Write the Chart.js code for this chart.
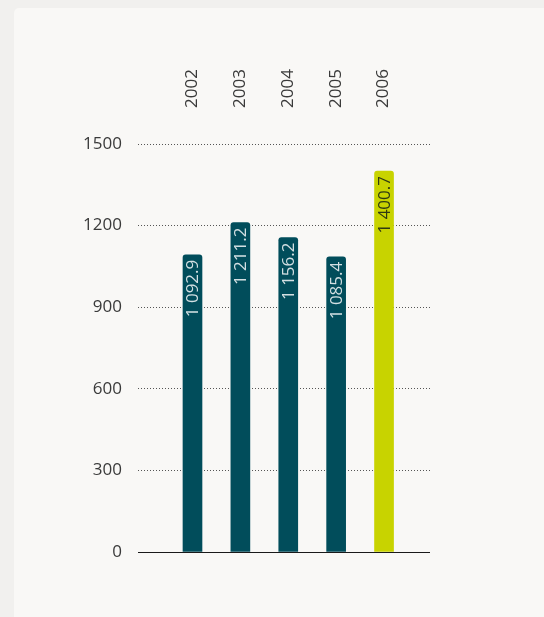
<!DOCTYPE html>
<html>
<head>
<meta charset="utf-8">
<script src="https://cdn.jsdelivr.net/npm/chart.js@4/dist/chart.umd.min.js"></script>
<style>
  html, body { margin: 0; padding: 0; background: #f1f0ee; }
  body { width: 544px; height: 617px; position: relative; overflow: hidden; }
  #card { position: absolute; left: 14px; top: 8px; width: 540px; height: 620px; background: #f9f8f6; border-radius: 5px; }
  #wrap { position: absolute; left: 0; top: 0; width: 544px; height: 617px; }
</style>
</head>
<body>
<div id="card"></div>
<div id="wrap"><canvas id="c" width="544" height="617"></canvas></div>
<script>
const years = [2002, 2003, 2004, 2005, 2006];
const values = [1092.9, 1211.2, 1156.2, 1085.4, 1400.7];
const valueLabels = ['1 092.9', '1 211.2', '1 156.2', '1 085.4', '1 400.7'];
const yTicks = [0, 300, 600, 900, 1200, 1500];

const TEAL = '#014d5b';
const LIME = '#c8d300';
const barColors = years.map((y, i) => i === years.length - 1 ? LIME : TEAL);
const labelColors = years.map((y, i) => i === years.length - 1 ? '#2f3a12' : '#d3dfe2');

const FONT = "'Open Sans', 'Noto Sans', sans-serif";

const valueLabelPlugin = {
  id: 'valueLabels',
  afterDatasetsDraw(chart) {
    const ctx = chart.ctx;
    const meta = chart.getDatasetMeta(0);
    const yScale = chart.scales.y;
    const y0 = Math.round(yScale.getPixelForValue(0)) + 0.5;
    ctx.save();
    ctx.strokeStyle = '#1a1a1a';
    ctx.lineWidth = 1;
    ctx.beginPath();
    ctx.moveTo(chart.chartArea.left, y0);
    ctx.lineTo(chart.chartArea.right, y0);
    ctx.stroke();
    ctx.font = '17px ' + FONT;
    ctx.textAlign = 'right';
    ctx.textBaseline = 'middle';
    meta.data.forEach((bar, i) => {
      ctx.save();
      ctx.translate(bar.x + 1, bar.y + 5);
      ctx.rotate(-Math.PI / 2);
      ctx.fillStyle = labelColors[i];
      ctx.fillText(valueLabels[i], 0, 0);
      ctx.restore();
    });
    ctx.restore();
  }
};

new Chart(document.getElementById('c'), {
  type: 'bar',
  data: {
    datasets: [{
      data: years.map((yr, i) => ({ x: yr, y: values[i] })),
      backgroundColor: barColors,
      barThickness: 19,
      borderRadius: { topLeft: 3, topRight: 3, bottomLeft: 0, bottomRight: 0 },
      borderSkipped: false
    }]
  },
  options: {
    responsive: false,
    animation: false,
    devicePixelRatio: 1,
    layout: { padding: { left: 0, right: 114, top: 0, bottom: 65 } },
    plugins: { legend: { display: false }, tooltip: { enabled: false } },
    scales: {
      x: {
        type: 'linear',
        position: 'top',
        offset: false,
        min: 2000.862,
        max: 2006.96,
        afterBuildTicks: (scale) => { scale.ticks = years.map(v => ({ value: v })); },
        afterFit: (scale) => { scale.height = 144; },
        grid: { display: false, drawTicks: false, offset: false },
        border: { display: false },
        ticks: {
          autoSkip: false,
          minRotation: 90,
          maxRotation: 90,
          padding: 36,
          labelOffset: 20,
          color: '#3a3a3a',
          font: { family: FONT, size: 17 },
          callback: (v) => String(v)
        }
      },
      y: {
        min: 0,
        max: 1500,
        afterBuildTicks: (scale) => { scale.ticks = yTicks.map(v => ({ value: v })); },
        afterFit: (scale) => { scale.width = 138; },
        grid: {
          drawTicks: false,
          color: (c) => c.tick && c.tick.value === 0 ? 'rgba(0,0,0,0)' : '#555',
          lineWidth: 1
        },
        border: { display: false, dash: [1, 2] },
        ticks: {
          padding: 16,
          color: '#3a3a3a',
          font: { family: FONT, size: 17 },
          callback: (v) => String(v)
        }
      }
    }
  },
  plugins: [valueLabelPlugin]
});
</script>
</body>
</html>
